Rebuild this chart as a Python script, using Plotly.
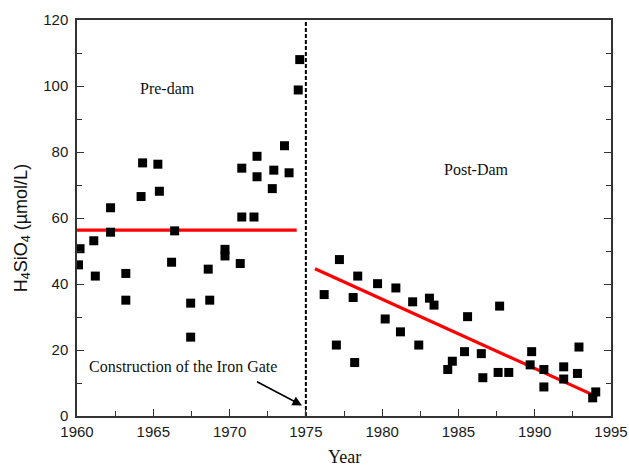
import plotly.graph_objects as go

# Pre-dam observations (year, H4SiO4 umol/L)
pre_years = [1960.2, 1960.1, 1961.1, 1961.2, 1962.2, 1962.2, 1963.2, 1963.2,
             1964.2, 1964.3, 1965.3, 1965.4, 1966.2, 1966.4, 1967.45, 1967.45,
             1968.6, 1968.7, 1969.7, 1969.7, 1970.7, 1970.8, 1970.8, 1971.6,
             1971.8, 1971.8, 1972.8, 1972.9, 1973.6, 1973.9, 1974.5, 1974.6]
pre_values = [50.7, 45.8, 53.1, 42.4, 63.1, 55.7, 43.2, 35.1,
              66.5, 76.7, 76.3, 68.1, 46.6, 56.1, 34.2, 23.9,
              44.5, 35.1, 50.5, 48.5, 46.2, 60.3, 75.1, 60.3,
              78.7, 72.5, 68.9, 74.5, 81.9, 73.7, 98.8, 108.0]

# Post-dam observations
post_years = [1976.2, 1977.2, 1977.0, 1978.4, 1978.1, 1978.2, 1979.7, 1980.2,
              1980.9, 1981.2, 1982.0, 1982.4, 1983.1, 1983.4, 1984.3, 1984.6,
              1985.4, 1985.6, 1986.5, 1986.6, 1987.6, 1987.7, 1988.3, 1989.8,
              1989.7, 1990.6, 1990.6, 1991.9, 1991.9, 1992.8, 1992.9, 1994.0,
              1993.8]
post_values = [36.8, 47.4, 21.5, 42.4, 35.9, 16.2, 40.1, 29.4,
               38.8, 25.5, 34.6, 21.5, 35.7, 33.6, 14.1, 16.6,
               19.5, 30.1, 18.9, 11.6, 13.2, 33.3, 13.2, 19.5,
               15.5, 14.1, 8.8, 14.9, 11.2, 12.9, 20.9, 7.3,
               5.5]

# Fitted lines
pre_mean_years = [1960.0, 1974.4]
pre_mean_values = [56.3, 56.3]
post_trend_years = [1975.6, 1994.1]
post_trend_values = [44.6, 5.8]

dam_year = 1975.0
y_range = [0, 120]

fig = go.Figure()
fig.add_trace(go.Scatter(x=pre_mean_years, y=pre_mean_values, mode="lines",
                         line=dict(color="#ff0000", width=3.2), showlegend=False))
fig.add_trace(go.Scatter(x=post_trend_years, y=post_trend_values, mode="lines",
                         line=dict(color="#ff0000", width=3.2), showlegend=False))
fig.add_trace(go.Scatter(x=[dam_year, dam_year], y=y_range, mode="lines",
                         line=dict(color="black", width=2, dash="4px,2px"), showlegend=False))
fig.add_trace(go.Scatter(x=pre_years, y=pre_values, mode="markers",
                         marker=dict(symbol="square", size=9, color="black"), showlegend=False))
fig.add_trace(go.Scatter(x=post_years, y=post_values, mode="markers",
                         marker=dict(symbol="square", size=9, color="black"), showlegend=False))

serif = dict(family="Liberation Serif, Times New Roman, serif", size=16, color="#111")
fig.add_annotation(x=1965.9, y=99.2, text="Pre-dam", showarrow=False, font=serif)
fig.add_annotation(x=1986.2, y=74.8, text="Post-Dam", showarrow=False, font=serif)
fig.add_annotation(x=1966.95, y=14.9, text="Construction of the Iron Gate",
                   showarrow=False, font=serif)
fig.add_annotation(x=1974.75, y=3.2, ax=1971.7, ay=10.6, axref="x", ayref="y",
                   text="", showarrow=True, arrowhead=2, arrowsize=1.2,
                   arrowwidth=1.6, arrowcolor="black")
# axis titles
fig.add_annotation(x=0, y=0.474, xref="paper", yref="paper", xanchor="center", yanchor="middle",
                   xshift=-55, textangle=-90, showarrow=False,
                   text="H<sub>4</sub>SiO<sub>4</sub> (µmol/L)",
                   font=dict(family="Liberation Sans, Arial, sans-serif", size=18, color="#111"))
fig.add_annotation(x=0.5, y=0, xref="paper", yref="paper", xanchor="center", yanchor="middle",
                   yshift=-41, borderpad=0, showarrow=False, text="Year",
                   font=dict(family="Liberation Serif, Times New Roman, serif", size=18, color="#111"))

tickfont = dict(family="Liberation Sans, Arial, sans-serif", size=15, color="#1a1a1a")
fig.update_layout(
    width=629, height=469,
    margin=dict(l=77, r=18, t=20, b=53),
    plot_bgcolor="white", paper_bgcolor="white",
    xaxis=dict(range=[1960, 1995], dtick=5, tick0=1960, showgrid=False, zeroline=False,
               automargin=False, ticklabeloverflow="allow",
               showline=True, linecolor="#333", linewidth=1.5, mirror=True,
               ticks="inside", ticklen=7, tickwidth=1.2, tickcolor="#333",
               minor=dict(dtick=2.5, ticks="inside", ticklen=5, tickwidth=1.2, tickcolor="#333"),
               tickfont=tickfont, ticklabelstandoff=1),
    yaxis=dict(range=y_range, dtick=20, tick0=0, showgrid=False, zeroline=False,
               automargin=False, ticklabeloverflow="allow",
               showline=True, linecolor="#333", linewidth=1.5, mirror="allticks",
               ticks="inside", ticklen=7, tickwidth=1.2, tickcolor="#333",
               minor=dict(dtick=10, ticks="inside", ticklen=5, tickwidth=1.2, tickcolor="#333"),
               tickfont=tickfont, ticklabelstandoff=4),
)

fig.write_html("out.html", config={"displayModeBar": False},
               post_script="document.body.style.margin='0';document.body.style.overflow='hidden';")
